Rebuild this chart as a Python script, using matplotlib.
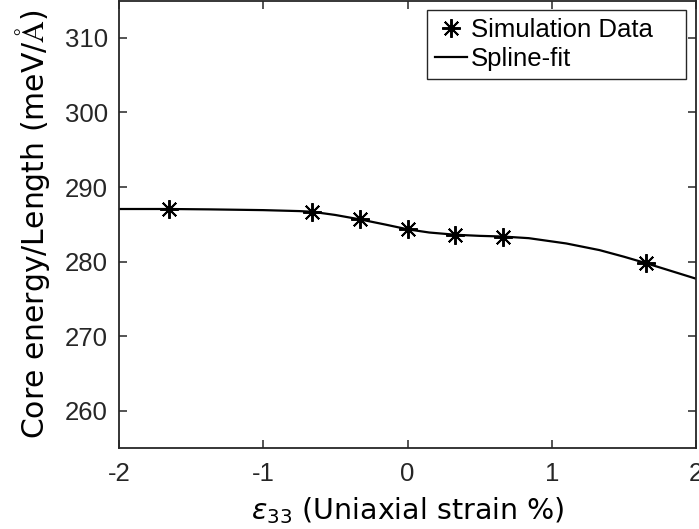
import numpy as np
import matplotlib
matplotlib.use("Agg")
import matplotlib.pyplot as plt

# simulation points (strain %, core energy meV/A)
strain = [-1.65, -0.66, -0.33, 0.0, 0.33, 0.66, 1.65]
energy = [287.05, 286.68, 285.66, 284.33, 283.6, 283.36, 279.8]

# spline-fit curve
fit_x = [-2.0, -1.65, -1.37, -1.0, -0.75, -0.66, -0.5, -0.33, -0.15, 0.0, 0.15, 0.33,
         0.5, 0.66, 0.84, 1.1, 1.33, 1.5, 1.65, 1.8, 2.0]
fit_y = [287.05, 287.05, 287.0, 286.9, 286.77, 286.68, 286.25, 285.66, 284.95, 284.33,
         283.9, 283.6, 283.45, 283.36, 283.14, 282.43, 281.54, 280.65, 279.8, 278.9, 277.7]

xticks = [-2, -1, 0, 1, 2]
yticks = [260, 270, 280, 290, 300, 310]

plt.rcParams['font.family'] = ['Liberation Sans', 'DejaVu Sans']
gray = '#262626'

fig = plt.figure(figsize=(6.99, 5.29), dpi=100)
ax = fig.add_axes([0.170, 0.153, 0.826, 0.846])

ax.plot(strain, energy, linestyle='none', marker=(8, 2, 0), markersize=13.5,
        markeredgewidth=1.4, color='black', label='Simulation Data')
ax.plot(fit_x, fit_y, '-', color='black', lw=1.6, label='Spline-fit')

ax.set_xlim(-2, 2)
ax.set_ylim(255, 315)
ax.set_xticks(xticks)
ax.set_yticks(yticks)
ax.set_xticklabels([str(t) for t in xticks])
ax.tick_params(direction='in', length=6, width=1.1, top=True, right=True,
               labelsize=18.5, colors=gray)
ax.tick_params(axis='x', pad=10)
ax.tick_params(axis='y', pad=8)
for s in ax.spines.values():
    s.set_color(gray)
    s.set_linewidth(1.3)

ax.set_xlabel(r'$\epsilon_{33}$ (Uniaxial strain %)', fontsize=20.5,
              family='DejaVu Sans', math_fontfamily='dejavusans', labelpad=7)
ax.set_ylabel(r'Core energy/Length (meV/$\mathrm{\AA}$)', fontsize=21.5,
              family='DejaVu Sans', math_fontfamily='cm', labelpad=9)

# legend box stretched to the width seen in the reference
leg = ax.legend(loc='upper left', bbox_to_anchor=(0.534, 0.0, 0.449, 0.978),
                mode='expand', borderaxespad=0, fontsize=18.5, frameon=True,
                fancybox=False, edgecolor=gray, framealpha=1, borderpad=0.3,
                labelspacing=0.2, handlelength=1.25, handletextpad=0.15)
leg.get_frame().set_linewidth(1.0)

fig.savefig('out.png', dpi=100)
